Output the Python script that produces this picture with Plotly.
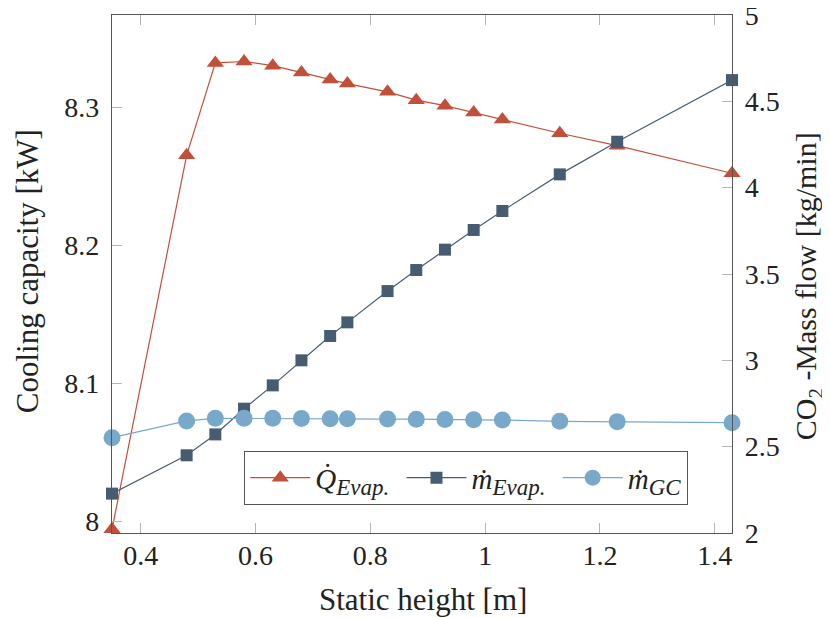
import plotly.graph_objects as go

# ---- data ----
height_m = [0.35, 0.48, 0.53, 0.58, 0.63, 0.68, 0.73, 0.76, 0.83, 0.88, 0.93, 0.98, 1.03, 1.13, 1.23, 1.43]
q_evap_kw = [7.994, 8.265, 8.332, 8.333, 8.330, 8.325, 8.320, 8.317, 8.311, 8.305, 8.301, 8.296, 8.291, 8.281, 8.272, 8.252]
m_evap = [2.228, 2.450, 2.571, 2.720, 2.855, 3.000, 3.141, 3.220, 3.401, 3.523, 3.641, 3.755, 3.865, 4.077, 4.266, 4.623]
m_gc = [2.552, 2.649, 2.664, 2.664, 2.664, 2.663, 2.662, 2.662, 2.660, 2.659, 2.658, 2.656, 2.654, 2.647, 2.645, 2.639]

x_ticks = [0.4, 0.6, 0.8, 1.0, 1.2, 1.4]
x_tick_text = ["0.4", "0.6", "0.8", "1", "1.2", "1.4"]
y1_ticks = [8.0, 8.1, 8.2, 8.3]
y1_tick_text = ["8", "8.1", "8.2", "8.3"]
y2_ticks = [2, 2.5, 3, 3.5, 4, 4.5, 5]
y2_tick_text = ["2", "2.5", "3", "3.5", "4", "4.5", "5"]

SUB = '<sub><span style="font-size:23px">{}</span></sub>'
PAD = "&nbsp;"
names = ["<i>Q̇</i>" + SUB.format("<i>Evap.</i>") + PAD,
         "<i>ṁ</i>" + SUB.format("<i>Evap.</i>") + PAD,
         "<i>ṁ</i>" + SUB.format("<i>GC</i>")]

RED = "#c1503a"
DARK = "#465c73"
LIGHT = "#78a8ca"
FONT = "Liberation Serif"
FRAME = "#555555"
TICK = "#b5b5b5"

fig = go.Figure()
fig.add_trace(go.Scatter(x=height_m, y=q_evap_kw, name=names[0], mode="lines+markers",
                         line=dict(color=RED, width=1.2),
                         marker=dict(symbol="triangle-up", size=15, color=RED),
                         cliponaxis=False, yaxis="y"))
fig.add_trace(go.Scatter(x=height_m, y=m_evap, name=names[1], mode="lines+markers",
                         line=dict(color=DARK, width=1.2),
                         marker=dict(symbol="square", size=12, color=DARK),
                         cliponaxis=False, yaxis="y2"))
fig.add_trace(go.Scatter(x=height_m, y=m_gc, name=names[2], mode="lines+markers",
                         line=dict(color=LIGHT, width=1.2),
                         marker=dict(symbol="circle", size=17, color=LIGHT),
                         cliponaxis=False, yaxis="y2"))

axis_common = dict(ticks="inside", ticklen=10, tickwidth=1.2, tickcolor=TICK,
                   showline=True, linecolor=FRAME, linewidth=1.3,
                   showgrid=False, zeroline=False, automargin=False,
                   ticklabeloverflow="allow")

fig.update_layout(
    template="none",
    width=822, height=610,
    margin=dict(l=104, r=98, t=7, b=85, pad=0),
    paper_bgcolor="white", plot_bgcolor="white",
    font=dict(family=FONT, size=28, color="#222222"),
    showlegend=True,
    legend=dict(orientation="h", x=0.213, y=0.158, xanchor="left", yanchor="top",
                bordercolor=FRAME, borderwidth=1.2, bgcolor="white", itemwidth=60,
                font=dict(family=FONT, size=29, color="#222222")),
    xaxis=dict(range=[0.35, 1.43], tickvals=x_ticks, ticktext=x_tick_text,
               mirror="ticks", ticklabelstandoff=-3, **axis_common),
    yaxis=dict(range=[7.9913, 8.3667], tickvals=y1_ticks, ticktext=y1_tick_text,
               ticklabelstandoff=6, **axis_common),
    yaxis2=dict(range=[2, 5], tickvals=y2_ticks, ticktext=y2_tick_text,
                overlaying="y", side="right", ticklabelstandoff=6, **axis_common),
    annotations=[
        dict(text="Static height [m]", xref="paper", yref="paper", x=0.501, y=-0.129,
             xanchor="center", yanchor="middle", showarrow=False, font=dict(size=31)),
        dict(text="Cooling capacity [kW]", xref="paper", yref="paper", x=-0.135, y=0.506,
             xanchor="center", yanchor="middle", textangle=-90, showarrow=False, font=dict(size=31)),
        dict(text="CO<sub>2</sub> -Mass flow [kg/min]", xref="paper", yref="paper", x=1.124, y=0.476,
             xanchor="center", yanchor="middle", textangle=-90, showarrow=False, font=dict(size=30)),
    ],
)

fig.write_html("out.html")
